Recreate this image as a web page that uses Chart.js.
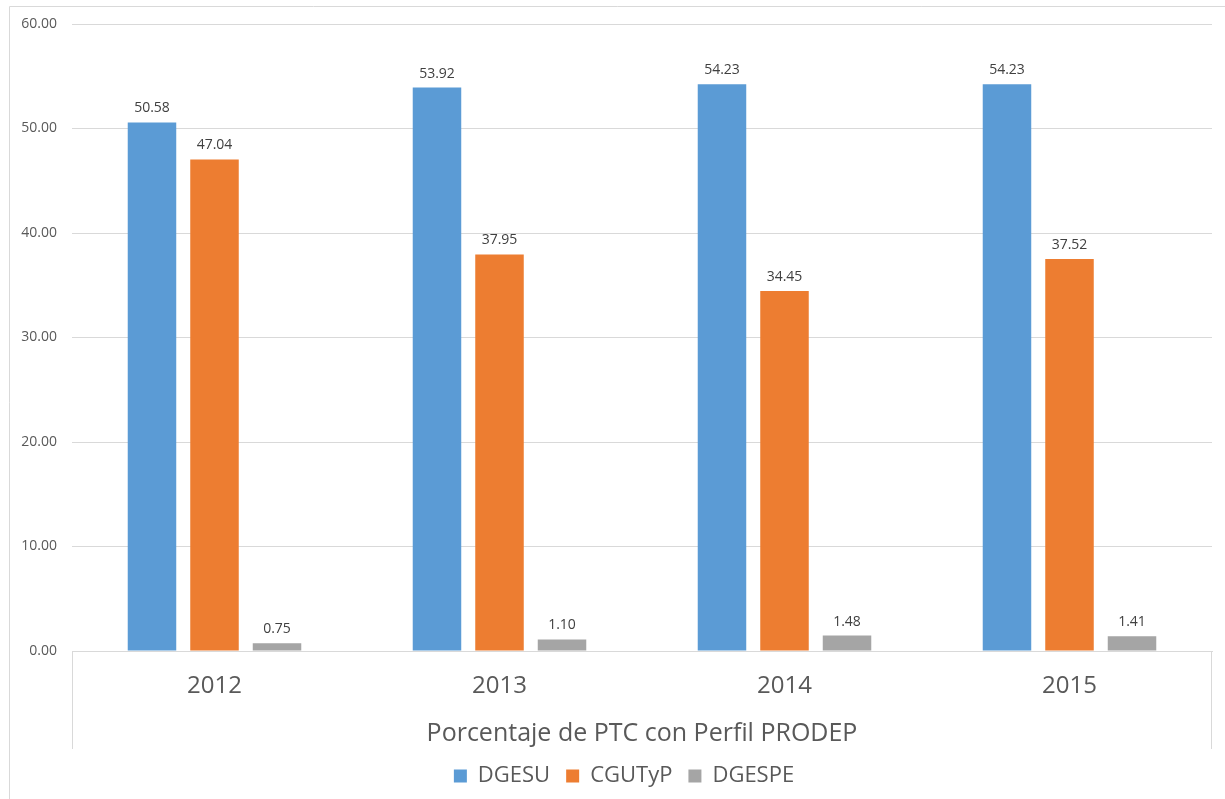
<!DOCTYPE html>
<html>
<head>
<meta charset="utf-8">
<script src="https://cdn.jsdelivr.net/npm/chart.js@4/dist/chart.umd.min.js"></script>
<style>
  html, body { margin: 0; padding: 0; background: #fff; }
  #wrap { width: 1225px; height: 799px; position: relative; }
</style>
</head>
<body>
<div id="wrap"><canvas id="chart"></canvas></div>
<script>
// data
var years = ['2012', '2013', '2014', '2015'];
var dgesu = [50.58, 53.92, 54.23, 54.23];
var cgutyp = [47.04, 37.95, 34.45, 37.52];
var dgespe = [0.75, 1.10, 1.48, 1.41];
var yTicks = [0, 10, 20, 30, 40, 50, 60];
var axisTitle = 'Porcentaje de PTC con Perfil PRODEP';

var FONT = '"Open Sans", "DejaVu Sans", sans-serif';
var GRID = '#d9d9d9';
var TEXT = '#595959';

// frame around the whole chart + box under the category axis
var framePlugin = {
    id: 'frame',
    afterLayout: function (chart) {
        // the original legend sits a bit right of the canvas centre
        chart.legend.left += 36;
    },
    beforeDraw: function (chart) {
        var ctx = chart.ctx;
        ctx.save();
        ctx.strokeStyle = GRID;
        ctx.lineWidth = 1;
        ctx.beginPath();
        ctx.moveTo(9.5, chart.height);
        ctx.lineTo(9.5, 6.5);
        ctx.lineTo(chart.width, 6.5);
        ctx.stroke();
        ctx.restore();
    },
    afterDraw: function (chart) {
        var ctx = chart.ctx;
        var area = chart.chartArea;
        var x = chart.scales.x;
        ctx.save();
        ctx.strokeStyle = GRID;
        ctx.lineWidth = 1;
        ctx.beginPath();
        ctx.moveTo(Math.round(area.left) + 0.5, area.bottom);
        ctx.lineTo(Math.round(area.left) + 0.5, x.bottom);
        ctx.moveTo(Math.round(area.right) - 0.5, area.bottom);
        ctx.lineTo(Math.round(area.right) - 0.5, x.bottom);
        ctx.stroke();
        ctx.restore();
    }
};

// value labels above each bar
var labelPlugin = {
    id: 'valueLabels',
    afterDatasetsDraw: function (chart) {
        var ctx = chart.ctx;
        ctx.save();
        ctx.font = '14px ' + FONT;
        ctx.fillStyle = '#404040';
        ctx.textAlign = 'center';
        ctx.textBaseline = 'middle';
        chart.data.datasets.forEach(function (ds, i) {
            var meta = chart.getDatasetMeta(i);
            meta.data.forEach(function (bar, j) {
                ctx.fillText(ds.data[j].toFixed(2), bar.x, bar.y - 14);
            });
        });
        ctx.restore();
    }
};

var chart = new Chart(document.getElementById('chart').getContext('2d'), {
    type: 'bar',
    data: {
        labels: years,
        datasets: [
            { label: 'DGESU', data: dgesu, backgroundColor: '#5b9bd5' },
            { label: 'CGUTyP', data: cgutyp, backgroundColor: '#ed7d31' },
            { label: 'DGESPE', data: dgespe, backgroundColor: '#a5a5a5' }
        ]
    },
    options: {
        responsive: true,
        maintainAspectRatio: false,
        animation: false,
        datasets: {
            bar: { categoryPercentage: 0.658, barPercentage: 0.776 }
        },
        layout: { padding: { left: 0, right: 13, top: 24, bottom: 2 } },
        plugins: {
            tooltip: { enabled: false },
            legend: {
                position: 'bottom',
                labels: {
                    font: { family: FONT, size: 22 },
                    color: TEXT,
                    boxWidth: 13,
                    boxHeight: 13,
                    padding: 16
                }
            }
        },
        scales: {
            x: {
                grid: { display: false },
                border: { display: true, color: GRID },
                ticks: {
                    font: { family: FONT, size: 24 },
                    color: TEXT,
                    padding: 13
                },
                title: {
                    display: true,
                    text: axisTitle,
                    font: { family: FONT, size: 25 },
                    color: TEXT,
                    padding: { top: 0, bottom: 0 }
                },
                afterFit: function (scale) { scale.height = 98; }
            },
            y: {
                min: yTicks[0],
                max: yTicks[yTicks.length - 1],
                grid: { color: GRID, drawTicks: false },
                border: { display: false },
                afterBuildTicks: function (scale) {
                    scale.ticks = yTicks.map(function (v) { return { value: v }; });
                },
                ticks: {
                    font: { family: FONT, size: 14 },
                    color: TEXT,
                    padding: 15,
                    callback: function (v) { return Number(v).toFixed(2); }
                },
                afterFit: function (scale) { scale.width = 72; }
            }
        }
    },
    plugins: [framePlugin, labelPlugin]
});
</script>
</body>
</html>
